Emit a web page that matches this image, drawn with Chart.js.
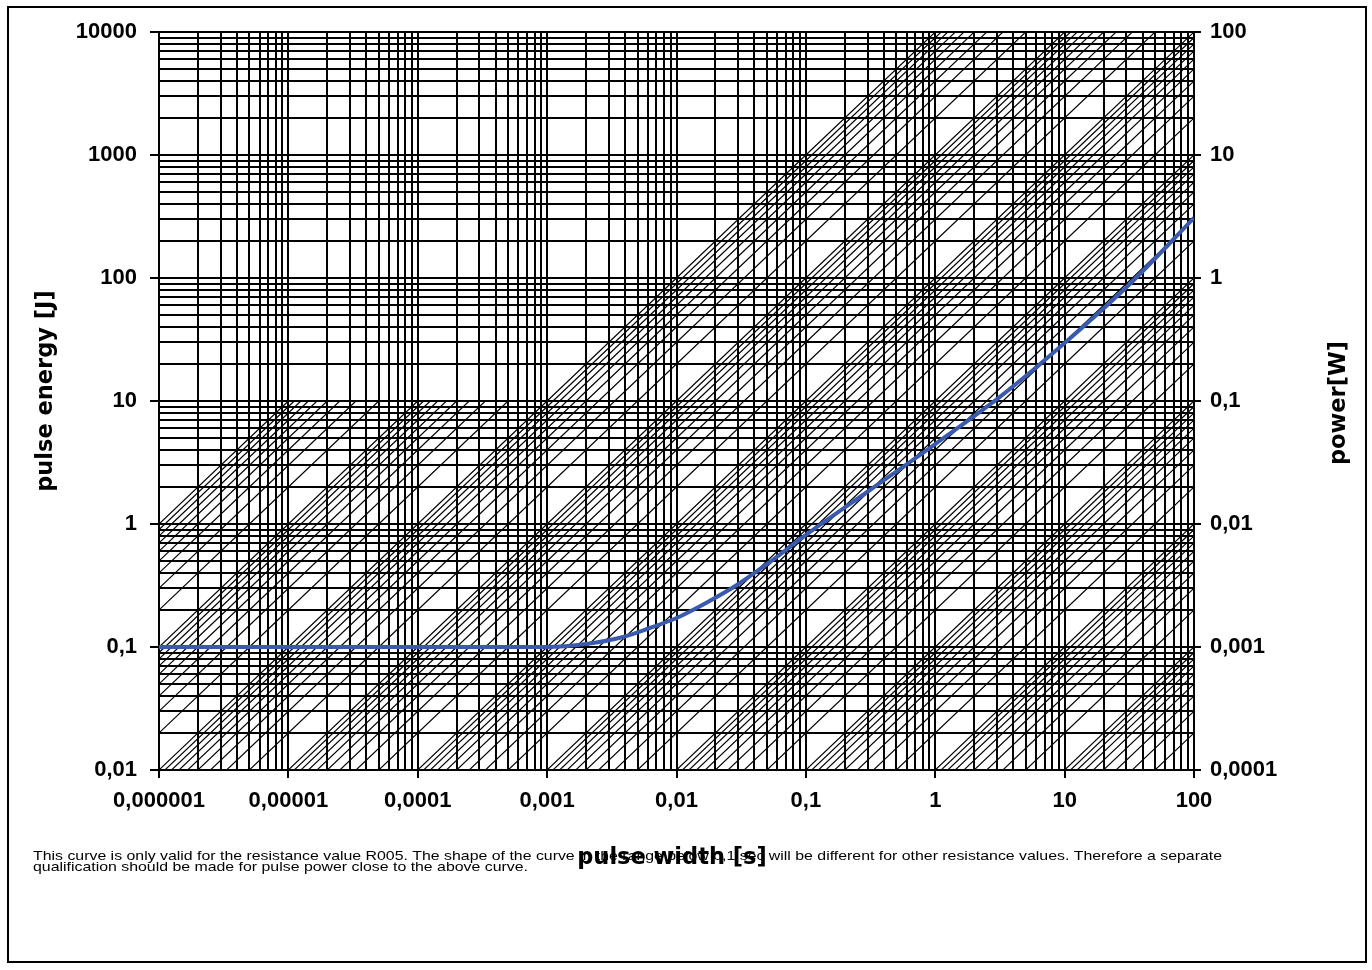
<!DOCTYPE html>
<html>
<head>
<meta charset="utf-8">
<script src="https://cdn.jsdelivr.net/npm/chart.js@4.4.1/dist/chart.umd.min.js"></script>
<style>
  html, body { margin: 0; padding: 0; background: #fff; }
  #wrap { width: 1372px; height: 970px; position: relative; }
</style>
</head>
<body>
<div id="wrap"><canvas id="chart" width="1372" height="970"></canvas></div>
<script>
// axis decades and their printed labels (comma decimals as in the original)
const widthDecades = [1e-6, 1e-5, 1e-4, 1e-3, 1e-2, 1e-1, 1, 10, 100];
const widthLabels = ["0,000001", "0,00001", "0,0001", "0,001", "0,01", "0,1", "1", "10", "100"];
const energyDecades = [0.01, 0.1, 1, 10, 100, 1000, 10000];
const energyLabels = ["0,01", "0,1", "1", "10", "100", "1000", "10000"];
const powerDecades = [0.0001, 0.001, 0.01, 0.1, 1, 10, 100];
const powerLabels = ["0,0001", "0,001", "0,01", "0,1", "1", "10", "100"];
const gridSteps = [1, 2, 3, 4, 5, 6, 7, 8, 9];

// pulse curve (R005)
const curveWidth = [1e-6, 1e-5, 1e-4, 1e-3, 0.002, 0.00386, 0.00622, 0.01, 0.0169, 0.0293, 0.0527, 0.1, 0.313, 1, 3.16, 10, 31.9, 100];
const curveEnergy = [0.1, 0.1, 0.1, 0.1, 0.1058, 0.1206, 0.1427, 0.172, 0.228, 0.319, 0.491, 0.814, 1.89, 4.47, 10.8, 29.6, 89.3, 308];

// constant power hatch lines P = k * 10^p, each drawn over one energy decade
const hatchMultipliers = [1, 2, 3, 4, 5, 6, 7, 8, 9];
const hatchPowerExps = [-6, -5, -4, -3, -2, -1, 0, 1, 2, 3, 4, 5, 6];
const hatchEnergyExps = [-2, -1, 0, 1, 2, 3];
const hatchCapLow = 1e6;   // max power for energies below 10 J
const hatchCapHigh = 1e4;  // max power for energies from 10 J up

const noteLines = [
  "This curve is only valid for the resistance value R005. The shape of the curve in the range below 0,1 sec will be different for other resistance values. Therefore a separate",
  "qualification should be made for pulse power close to the above curve.",
];

function buildHatch() {
  const pts = [];
  hatchEnergyExps.forEach((d) => {
    const cap = d >= 1 ? hatchCapHigh : hatchCapLow;
    hatchPowerExps.forEach((p) => {
      hatchMultipliers.forEach((k) => {
        const P = k * Math.pow(10, p);
        if (P > cap * 1.0001) return;
        const e0 = Math.pow(10, d);
        const e1 = Math.pow(10, d + 1);
        const t0 = e0 / P;
        const t1 = e1 / P;
        if (t1 < widthDecades[0] || t0 > widthDecades[widthDecades.length - 1]) return;
        pts.push({ x: t0, y: e0 }, { x: t1, y: e1 }, { x: t1, y: null });
      });
    });
  });
  return pts;
}

function fullTicks(decades) {
  const top = decades[decades.length - 1];
  const out = [];
  decades.forEach((d) => {
    gridSteps.forEach((s) => {
      const v = d * s;
      if (v <= top * 1.0001) out.push({ value: v });
    });
  });
  return out;
}

function labelFor(decades, labels, v) {
  const i = decades.findIndex((d) => Math.abs(d - v) / d < 1e-6);
  return i >= 0 ? labels[i] : "";
}

function isDecade(decades, v) {
  return decades.some((d) => Math.abs(d - v) / d < 1e-6);
}

const tickFont = { family: "'Liberation Sans', Arial, sans-serif", size: 22, weight: "bold" };
const gridBlack = "#000";

const decor = {
  id: "decor",
  afterDraw(chart) {
    const c = chart.ctx;
    c.save();
    c.strokeStyle = "#000";
    c.lineWidth = 2;
    c.strokeRect(8, 7, 1358, 955);

    // footnote, fitted to the width it has in the original
    c.fillStyle = "#000";
    c.font = "13.5px 'Liberation Sans', Arial, sans-serif";
    c.textAlign = "left";
    c.textBaseline = "alphabetic";
    const sx = 1189 / c.measureText(noteLines[0]).width;
    c.save();
    c.translate(33, 0);
    c.scale(sx, 1);
    c.fillText(noteLines[0], 0, 860);
    c.fillText(noteLines[1], 0, 871);
    c.restore();

    c.font = "bold 22.5px 'DejaVu Sans', Verdana, sans-serif";
    c.textAlign = "center";
    c.textBaseline = "middle";
    c.fillText("pulse width [s]", 672, 858);

    c.save();
    c.translate(46, 391);
    c.rotate(-Math.PI / 2);
    c.fillText("pulse energy [J]", 0, 0);
    c.restore();

    c.save();
    c.translate(1339, 403);
    c.rotate(-Math.PI / 2);
    c.fillText("power[W]", 0, 0);
    c.restore();
    c.restore();
  },
};

new Chart(document.getElementById("chart"), {
  type: "line",
  data: {
    datasets: [
      {
        label: "pulse energy",
        data: curveWidth.map((t, i) => ({ x: t, y: curveEnergy[i] })),
        borderColor: "#3a5aad",
        borderWidth: 4,
        pointRadius: 0,
        cubicInterpolationMode: "monotone",
        order: 0,
      },
      {
        label: "hatch",
        data: buildHatch(),
        borderColor: "#000",
        borderWidth: 1.1,
        pointRadius: 0,
        spanGaps: false,
        order: 1,
      },
    ],
  },
  options: {
    responsive: false,
    animation: false,
    devicePixelRatio: 1,
    events: [],
    layout: { padding: { top: 32, left: 0, right: 0, bottom: 0 } },
    plugins: { legend: { display: false }, tooltip: { enabled: false } },
    scales: {
      x: {
        type: "logarithmic",
        min: widthDecades[0],
        max: widthDecades[widthDecades.length - 1],
        afterBuildTicks(scale) { scale.ticks = fullTicks(widthDecades); },
        afterFit(scale) { scale.height = 200; },
        ticks: {
          autoSkip: false,
          maxRotation: 0,
          padding: 10,
          color: "#000",
          font: tickFont,
          callback: (v) => labelFor(widthDecades, widthLabels, v),
        },
        grid: {
          color: gridBlack,
          lineWidth: 2,
          tickLength: 8,
          tickColor: (ctx) => (ctx.tick && isDecade(widthDecades, ctx.tick.value) ? "#000" : "rgba(0,0,0,0)"),
        },
        border: { color: "#000", width: 2 },
      },
      y: {
        type: "logarithmic",
        position: "left",
        min: energyDecades[0],
        max: energyDecades[energyDecades.length - 1],
        afterBuildTicks(scale) { scale.ticks = fullTicks(energyDecades); },
        afterFit(scale) { scale.width = 159; },
        ticks: {
          autoSkip: false,
          padding: 13,
          color: "#000",
          font: tickFont,
          callback: (v) => labelFor(energyDecades, energyLabels, v),
        },
        grid: {
          color: gridBlack,
          lineWidth: 2,
          tickLength: 9,
          tickColor: (ctx) => (ctx.tick && isDecade(energyDecades, ctx.tick.value) ? "#000" : "rgba(0,0,0,0)"),
        },
        border: { color: "#000", width: 2 },
      },
      y2: {
        type: "logarithmic",
        position: "right",
        min: powerDecades[0],
        max: powerDecades[powerDecades.length - 1],
        afterBuildTicks(scale) { scale.ticks = powerDecades.map((v) => ({ value: v })); },
        afterFit(scale) { scale.width = 178; },
        ticks: {
          autoSkip: false,
          padding: 9,
          color: "#000",
          font: tickFont,
          callback: (v) => labelFor(powerDecades, powerLabels, v),
        },
        grid: { drawOnChartArea: false, tickLength: 7, tickColor: "#000", lineWidth: 2 },
        border: { color: "#000", width: 2 },
      },
    },
  },
  plugins: [decor],
});
</script>
</body>
</html>
